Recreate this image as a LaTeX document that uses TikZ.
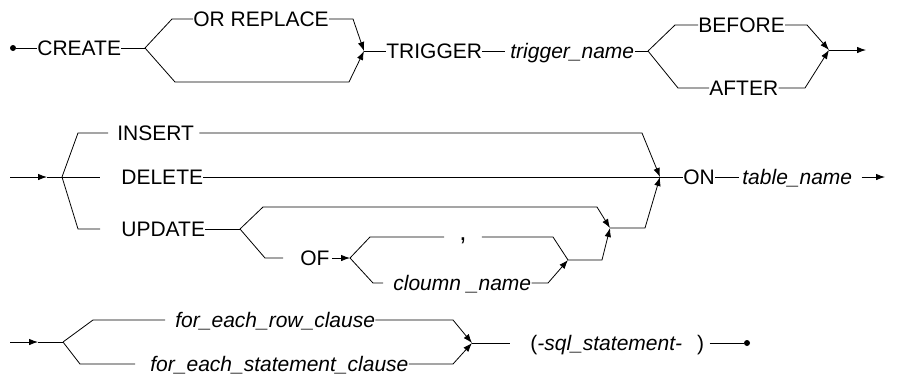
\documentclass[tikz,border=0pt]{standalone}
\usepackage{fontspec}
\setmainfont{Liberation Sans}
\usetikzlibrary{arrows.meta}

\begin{document}
\begin{tikzpicture}[x=1pt, y=-1pt, line width=0.8pt,
    >={Latex[length=9pt,width=6.5pt]},
    word/.style={anchor=west, inner sep=0pt, text height=15pt, text depth=0pt,
      font=\fontsize{21}{25}\selectfont},
    var/.style={word, font=\fontsize{21}{25}\selectfont\itshape},
    sep/.style={inner sep=0pt, text height=6pt, text depth=0pt, minimum width=37pt,
      font=\fontsize{26}{30}\selectfont},
    dot/.style={circle, fill, inner sep=0pt, minimum size=6pt}]

  \useasboundingbox (0,0) rectangle (897,376);

  % row 1: CREATE [OR REPLACE] TRIGGER trigger_name BEFORE|AFTER
  \node[dot] (start) at (13,48) {};
  \node[word] (create) at (37,48) {CREATE};
  \coordinate (b1) at (145,48);
  \node[word] (orrep) at (193,19) {OR REPLACE};
  \coordinate (j1) at (364,51);
  \node[word] (trigger) at (386,51) {TRIGGER};
  \node[var] (trigname) at (510,51) {trigger\_name};
  \coordinate (b2) at (648,51);
  \node[word] (before) at (698,25) {BEFORE};
  \node[word] (after) at (709,88) {AFTER};
  \coordinate (j2) at (829,50);
  \coordinate (e1) at (866,50);

  \draw (start) -- (create.west);
  \draw (create.east) -- (b1);
  \draw (b1) -- (172,19) -- (orrep.west);
  \draw[->] (orrep.east) -- (353,19) -- (j1);
  \draw[->] (b1) -- (175,82) -- (349,82) -- (j1);
  \draw (j1) -- (trigger.west);
  \draw (trigger.east) -- ([xshift=-5pt]trigname.west);
  \draw (trigname.east) -- (b2);
  \draw (b2) -- (675,25) -- (before.west);
  \draw[->] (before.east) -- (807,25) -- (j2);
  \draw (b2) -- (678,88) -- (after.west);
  \draw[->] (after.east) -- (805,88) -- (j2);
  \draw[->] (j2) -- (e1);

  % row 2: INSERT | DELETE | UPDATE [OF column list] ON table_name
  \coordinate (s2) at (10,177);
  \coordinate (m2) at (47,177);
  \coordinate (b3) at (62,177);
  \node[word] (insert) at (117,133) {INSERT};
  \node[word] (delete) at (121,177) {DELETE};
  \node[word] (update) at (121,229) {UPDATE};
  \coordinate (b4) at (240,229);
  \node[word] (of) at (300,258) {OF};
  \coordinate (b5) at (350,258);
  \node[sep] (comma) at (463,237) {,};
  \node[var] (cname) at (393,283) {cloumn \_name};
  \coordinate (j5) at (568,260);
  \coordinate (j4) at (610,228);
  \coordinate (j3) at (660,177);
  \node[word] (on) at (683,177) {ON};
  \node[var] (tabname) at (742,177) {table\_name};
  \coordinate (e2) at (885,177);

  \draw[->] (s2) -- (m2);
  \draw (m2) -- (b3);
  \draw (b3) -- (78,133) -- (108,133);
  \draw[->] ([xshift=5pt]insert.east) -- (642,133) -- (j3);
  \draw (b3) -- (100,177);
  \draw (delete.east) -- (j3);
  \draw (b3) -- (78,229) -- (100,229);
  \draw (update.east) -- (b4);
  \draw[->] (b4) -- (263,207) -- (597,207) -- (j4);
  \draw (b4) -- (265,258) -- (283,258);
  \draw[->] ([xshift=2pt]of.east) -- (b5);
  \draw (b5) -- (370,237) -- (comma.west);
  \draw (comma.east) -- (553,237) -- (j5);
  \draw (b5) -- (373,283) -- (383,283);
  \draw[->] (cname.east) -- (548,283) -- (j5);
  \draw[->] (j5) -- (602,260) -- (j4);
  \draw[->] (j4) -- (645,228) -- (j3);
  \draw (j3) -- (on.west);
  \draw (on.east) -- ([xshift=-3pt]tabname.west);
  \draw[->] ([xshift=9pt]tabname.east) -- (e2);

  % row 3: for each row | for each statement, then the statement
  \coordinate (s3) at (10,342);
  \coordinate (m3) at (38,342);
  \coordinate (b6) at (63,342);
  \node[var] (forrow) at (175,320) {for\_each\_row\_clause};
  \node[var] (forstmt) at (150,364) {for\_each\_statement\_clause};
  \coordinate (j6) at (472,343);
  \node[word] (sql) at (530,343) {(\textit{-sql\_statement-}\hspace{15pt})};
  \node[dot] (stop) at (747,343) {};

  \draw[->] (s3) -- (m3);
  \draw (m3) -- (b6);
  \draw (b6) -- (93,320) -- (165,320);
  \draw[->] (forrow.east) -- (453,320) -- (j6);
  \draw (b6) -- (80,364) -- (135,364);
  \draw[->] (forstmt.east) -- (453,364) -- (j6);
  \draw (j6) -- (510,343);
  \draw ([xshift=5pt]sql.east) -- (stop);

\end{tikzpicture}
\end{document}
